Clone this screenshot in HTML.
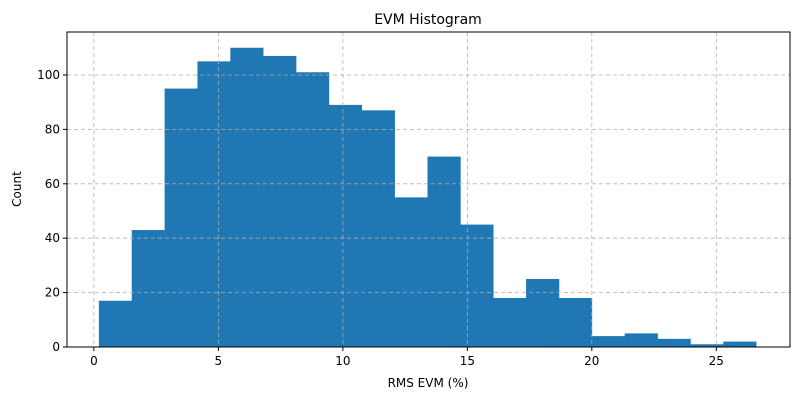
<!DOCTYPE html>
<html><head><meta charset="utf-8"><style>
body{margin:0;background:#fff;font-family:"Liberation Sans","DejaVu Sans",sans-serif;}
svg text{font-family:"DejaVu Sans","Liberation Sans",sans-serif;}
</style></head><body>
<svg id="chart" width="800" height="400">
<rect width="800" height="400" fill="#fff"/>
<g id="bars"></g>
<g id="grid"></g>
<rect x="67" y="32" width="723" height="315" fill="none" stroke="#000" stroke-width="1"/>
<g id="xaxis"></g>
<g id="yaxis"></g>
<text x="428" y="24" text-anchor="middle" font-size="14">EVM Histogram</text>
<text x="428" y="387" text-anchor="middle" font-size="12">RMS EVM (%)</text>
<text x="21" y="189" text-anchor="middle" font-size="12" transform="rotate(-90 21 189)">Count</text>
</svg>
<script>
const binStart = 0.2;
const binWidth = 1.32;
const counts = [17,43,95,105,110,107,101,89,87,55,70,45,18,25,18,4,5,3,1,2];
const xTicks = [0,5,10,15,20,25];
const yTicks = [0,20,40,60,80,100];
const NS="http://www.w3.org/2000/svg";
const X0=67,X1=790,Y0=347,Y1=32;
const xmin=-1.08, xmax=27.96;
const ymin=0, ymax=115.8;
function sx(v){return X0+(v-xmin)/(xmax-xmin)*(X1-X0);}
function sy(v){return Y0-(v-ymin)/(ymax-ymin)*(Y0-Y1);}
function mk(t,a,p){const e=document.createElementNS(NS,t);for(const k in a)e.setAttribute(k,a[k]);p.appendChild(e);return e;}
const grid=document.getElementById('grid'),bars=document.getElementById('bars'),xa=document.getElementById('xaxis'),ya=document.getElementById('yaxis');
xTicks.forEach(t=>{const x=sx(t);
 const g=mk('line',{x1:x,x2:x,y1:Y1,y2:Y0,stroke:'#b0b0b0','stroke-dasharray':'4,3','stroke-width':0.8},grid);
 
 
 const tk=mk('line',{x1:x,x2:x,y1:Y0,y2:Y0+4,stroke:'#000'},xa);
 
 
 const l=mk('text',{x:x,y:Y0+18,'text-anchor':'middle','font-size':12},xa);l.textContent=t;
 
 
});
yTicks.forEach(t=>{const y=sy(t);
 const g=mk('line',{x1:X0,x2:X1,y1:y,y2:y,stroke:'#b0b0b0','stroke-dasharray':'4,3','stroke-width':0.8},grid);
 
 
 const tk=mk('line',{x1:X0-4,x2:X0,y1:y,y2:y,stroke:'#000'},ya);
 
 
 const l=mk('text',{x:X0-7,y:y+4,'text-anchor':'end','font-size':12},ya);l.textContent=t;
 
 
});
counts.forEach((c,i)=>{const a=binStart+i*binWidth,b=a+binWidth;
 const r=mk('rect',{x:sx(a),y:sy(c),width:sx(b)-sx(a)+0.3,height:sy(0)-sy(c),fill:'#1f77b4'},bars);
 
 
});
</script>
</body></html>
